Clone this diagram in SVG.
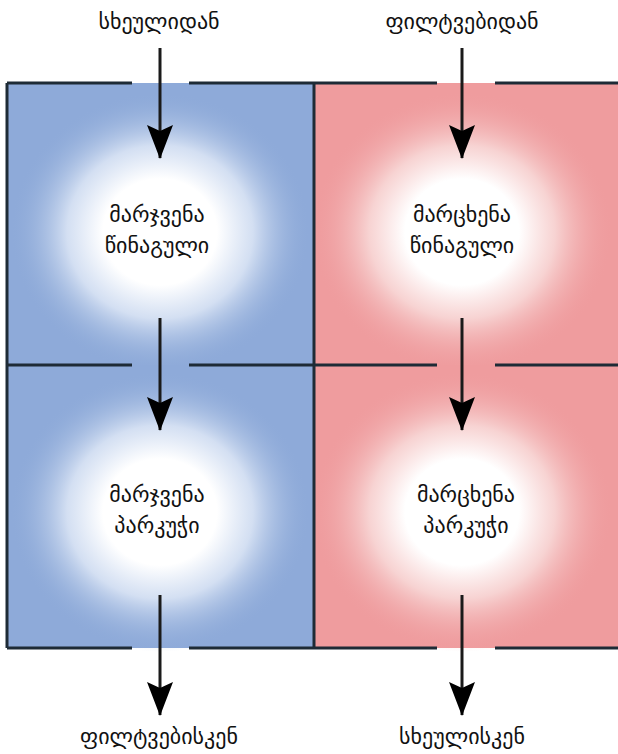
<svg xmlns="http://www.w3.org/2000/svg" width="618" height="754" viewBox="0 0 618 754">
<style>
.lbl{font-family:"DejaVu Sans","Noto Sans",sans-serif;font-size:22px;fill:#111;text-anchor:middle}
.bd{stroke:#1e2b36;stroke-width:3;fill:none}
.ar{stroke:#1a1a1a;stroke-width:3;fill:none;marker-end:url(#ah)}
</style>
<defs>
<marker id="ah" markerUnits="userSpaceOnUse" markerWidth="36" markerHeight="28" refX="33" refY="14" orient="auto" viewBox="0 0 36 28">
<path d="M0,1 L6,14 L0,27 L34,14 Z" fill="#000"/>
</marker>
<radialGradient id="gb" cx="0.5" cy="0.5" r="0.5">
<stop offset="0" stop-color="#fff"/>
<stop offset="0.38" stop-color="#fff"/>
<stop offset="0.62" stop-color="#dbe5f5" stop-opacity="0.9"/>
<stop offset="1" stop-color="#8daad8" stop-opacity="0"/>
</radialGradient>
<radialGradient id="gr" cx="0.5" cy="0.5" r="0.5">
<stop offset="0" stop-color="#fff"/>
<stop offset="0.38" stop-color="#fff"/>
<stop offset="0.62" stop-color="#f8d9d8" stop-opacity="0.9"/>
<stop offset="1" stop-color="#ef9d9f" stop-opacity="0"/>
</radialGradient>
</defs>
<rect width="618" height="754" fill="#fff"/>
<g id="ra">
<rect x="7" y="83" width="307" height="282" fill="#8eaad9"/>
<ellipse cx="160" cy="232" rx="150" ry="140" fill="url(#gb)"/>
<text class="lbl" x="157" y="222">მარჯვენა</text>
<text class="lbl" x="157" y="253">წინაგული</text>
</g>
<g id="la">
<rect x="314" y="83" width="304" height="282" fill="#ef9c9e"/>
<ellipse cx="462" cy="232" rx="150" ry="140" fill="url(#gr)"/>
<text class="lbl" x="462" y="222">მარცხენა</text>
<text class="lbl" x="462" y="253">წინაგული</text>
</g>
<g id="rv">
<rect x="7" y="365" width="307" height="283" fill="#8eaad9"/>
<ellipse cx="160" cy="512" rx="150" ry="140" fill="url(#gb)"/>
<text class="lbl" x="157" y="502">მარჯვენა</text>
<text class="lbl" x="157" y="533">პარკუჭი</text>
</g>
<g id="lv">
<rect x="314" y="365" width="304" height="283" fill="#ef9c9e"/>
<ellipse cx="462" cy="512" rx="150" ry="140" fill="url(#gr)"/>
<text class="lbl" x="466" y="502">მარცხენა</text>
<text class="lbl" x="466" y="533">პარკუჭი</text>
</g>
<g id="borders">
<path class="bd" d="M7,83 V648 M314,83 V648 M7,83 H132 M189,83 H437 M495,83 H618 M7,365 H132 M189,365 H437 M495,365 H618 M7,648 H132 M189,648 H437 M495,648 H618"/>
</g>
<g id="labels">
<text class="lbl" x="159" y="29">სხეულიდან</text>
<text class="lbl" x="462" y="29">ფილტვებიდან</text>
<text class="lbl" x="159" y="744">ფილტვებისკენ</text>
<text class="lbl" x="462" y="744">სხეულისკენ</text>
</g>
<g id="connectors">
<line class="ar" x1="160" y1="48" x2="160" y2="158"/>
<line class="ar" x1="462" y1="48" x2="462" y2="158"/>
<line class="ar" x1="160" y1="318" x2="160" y2="430"/>
<line class="ar" x1="462" y1="318" x2="462" y2="430"/>
<line class="ar" x1="160" y1="595" x2="160" y2="715"/>
<line class="ar" x1="462" y1="595" x2="462" y2="715"/>
</g>
</svg>
